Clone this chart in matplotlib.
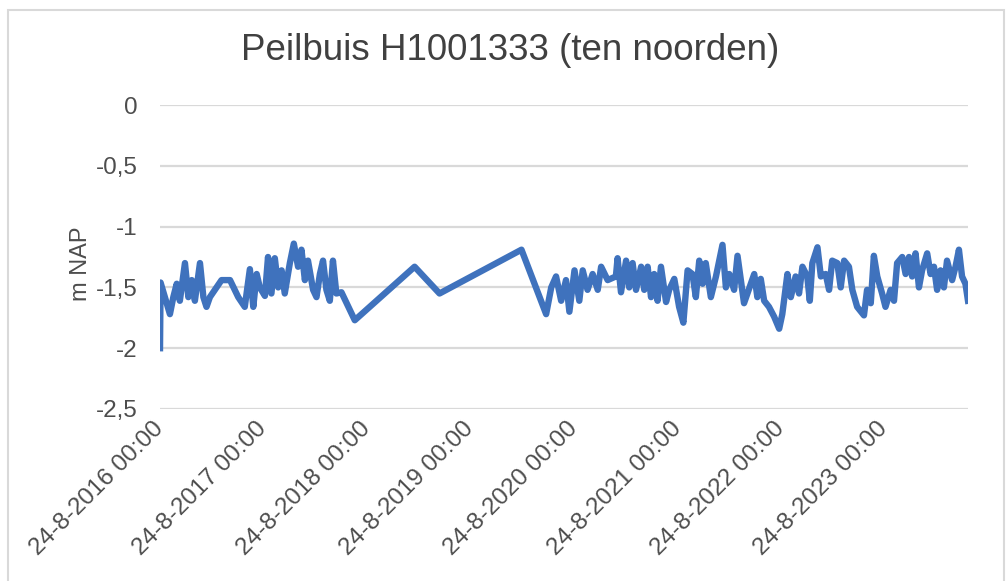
import numpy as np
import pandas as pd
import matplotlib
matplotlib.use("Agg")
import matplotlib.pyplot as plt
from matplotlib.patches import Rectangle

# groundwater level readings (m NAP), days counted from the first reading
start = pd.Timestamp("2016-08-24")
days = [0, 2, 35, 47, 59, 70, 88, 100, 112, 123, 141, 153, 164, 176, 217, 247,
        276, 299, 317, 329, 341, 352, 370, 381, 393, 405, 417, 429, 440, 458,
        472, 487, 499, 511, 522, 540, 552, 564, 575, 587, 599, 610, 622, 640,
        687, 898, 986, 1275, 1362, 1380, 1397, 1415, 1432, 1444, 1462, 1479,
        1491, 1508, 1526, 1544, 1556, 1579, 1608, 1614, 1626, 1644, 1655, 1667,
        1679, 1697, 1708, 1720, 1732, 1743, 1755, 1767, 1785, 1796, 1814, 1831,
        1846, 1861, 1878, 1890, 1902, 1914, 1925, 1943, 1961, 1984, 1996, 2008,
        2025, 2037, 2060, 2096, 2107, 2119, 2131, 2148, 2166, 2184, 2195, 2213,
        2225, 2242, 2254, 2266, 2283, 2292, 2301, 2319, 2331, 2348, 2360, 2371,
        2389, 2401, 2413, 2430, 2442, 2459, 2483, 2494, 2507, 2518, 2530, 2547,
        2559, 2577, 2589, 2600, 2618, 2630, 2642, 2653, 2665, 2677, 2688, 2706,
        2718, 2730, 2741, 2753, 2765, 2776, 2794, 2806, 2818, 2829, 2841, 2850]
level = [-2.00, -1.46, -1.72, -1.58, -1.47, -1.61, -1.30, -1.58, -1.44, -1.61,
         -1.30, -1.58, -1.66, -1.58, -1.44, -1.44, -1.58, -1.66, -1.35, -1.66,
         -1.39, -1.50, -1.57, -1.25, -1.55, -1.26, -1.50, -1.36, -1.55, -1.30,
         -1.14, -1.33, -1.19, -1.44, -1.28, -1.52, -1.58, -1.39, -1.28, -1.52,
         -1.61, -1.28, -1.55, -1.54, -1.77, -1.33, -1.55, -1.19, -1.72, -1.50,
         -1.41, -1.61, -1.44, -1.70, -1.36, -1.61, -1.36, -1.52, -1.39, -1.52,
         -1.33, -1.44, -1.41, -1.26, -1.54, -1.28, -1.50, -1.30, -1.52, -1.33,
         -1.52, -1.33, -1.58, -1.39, -1.61, -1.33, -1.62, -1.52, -1.43, -1.66,
         -1.79, -1.36, -1.39, -1.58, -1.28, -1.47, -1.30, -1.58, -1.41, -1.15,
         -1.50, -1.39, -1.52, -1.24, -1.63, -1.39, -1.58, -1.43, -1.61, -1.66,
         -1.74, -1.84, -1.72, -1.39, -1.58, -1.41, -1.55, -1.33, -1.41, -1.61,
         -1.30, -1.17, -1.41, -1.39, -1.52, -1.28, -1.30, -1.50, -1.28, -1.33,
         -1.52, -1.66, -1.73, -1.52, -1.63, -1.24, -1.41, -1.55, -1.66, -1.52,
         -1.61, -1.30, -1.25, -1.39, -1.25, -1.41, -1.22, -1.50, -1.36, -1.22,
         -1.39, -1.33, -1.52, -1.36, -1.50, -1.28, -1.44, -1.33, -1.19, -1.41,
         -1.47, -1.61]

y_ticks = [0, -0.5, -1, -1.5, -2, -2.5]
y_ticklabels = ["0", "-0,5", "-1", "-1,5", "-2", "-2,5"]
x_tick_years = [2016, 2017, 2018, 2019, 2020, 2021, 2022, 2023]

title = "Peilbuis H1001333 (ten noorden)"
ylabel = "m NAP"

plt.rcParams["font.family"] = ["Liberation Sans", "DejaVu Sans"]
text_color = "#4d4d4d"
grid_color = "#d9d9d9"

dates = start + pd.to_timedelta(days, unit="D")

fig = plt.figure(figsize=(10.08, 5.81), dpi=100)
fig.patches.append(Rectangle((8 / 1008, -0.05), 996 / 1008, 1.05 - 10 / 581,
                             transform=fig.transFigure, fill=False,
                             edgecolor=grid_color, lw=1.5))

ax = fig.add_axes([160 / 1008, 1 - 409 / 581, 808 / 1008, 304 / 581])
ax.plot(dates, level, color="#3f72bd", lw=4.6, solid_joinstyle="round")

ax.set_ylim(-2.5, 0)
ax.set_yticks(y_ticks)
ax.set_yticklabels(y_ticklabels)
ax.set_xlim(dates[0], dates[-1])
xt = [pd.Timestamp(f"{y}-08-24") for y in x_tick_years]
ax.set_xticks(xt)
ax.set_xticklabels([f"24-8-{y} 00:00" for y in x_tick_years],
                   rotation=45, ha="right", va="center", rotation_mode="anchor")

ax.grid(axis="y", color=grid_color, lw=1.6)
ax.set_axisbelow(True)
for s in ax.spines.values():
    s.set_visible(False)
ax.tick_params(axis="both", length=0, labelsize=17.5, colors=text_color)
ax.tick_params(axis="y", pad=16)
ax.tick_params(axis="x", pad=12)

fig.text(510 / 1008, 1 - 51 / 581, title, ha="center", va="center",
         fontsize=26.5, color="#404040")
fig.text(81 / 1008, 1 - 264 / 581, ylabel, ha="center", va="center",
         rotation=90, fontsize=17, color=text_color)

fig.savefig("out.png", dpi=100, facecolor="white")
